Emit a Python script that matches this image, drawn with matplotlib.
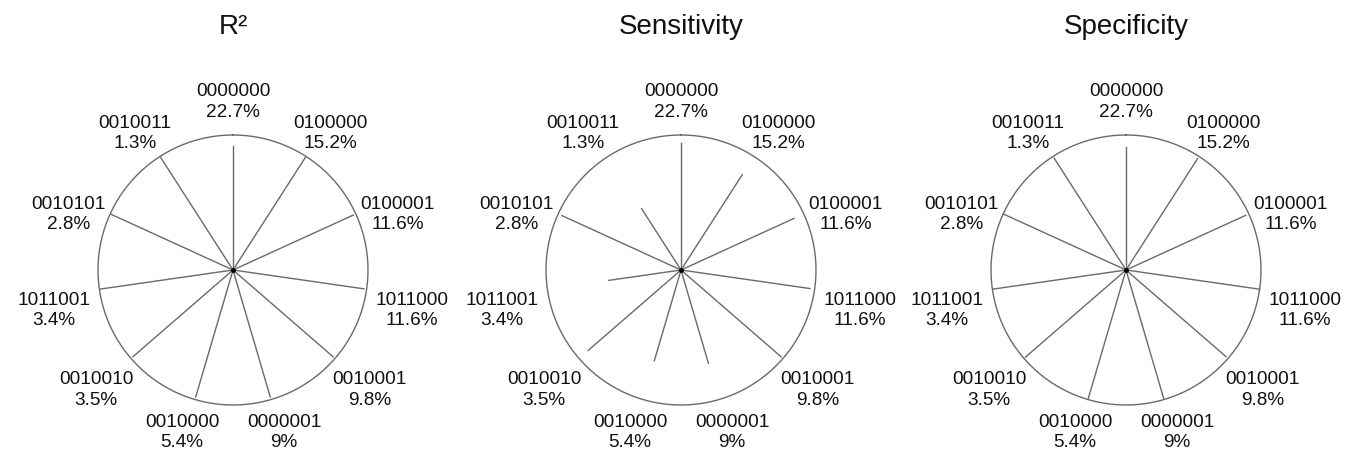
import matplotlib.pyplot as plt
import numpy as np

plt.rcParams['font.family'] = ['Liberation Sans', 'DejaVu Sans']

# Patterns, clockwise from the top
patterns = ['0000000', '0100000', '0100001', '1011000', '0010001', '0000001',
            '0010000', '0010010', '1011001', '0010101', '0010011']
shares = ['22.7%', '15.2%', '11.6%', '11.6%', '9.8%', '9%',
          '5.4%', '3.5%', '3.4%', '2.8%', '1.3%']

titles = ['R²', 'Sensitivity', 'Specificity']

r2_vals = [0.92, 0.99, 0.98, 0.98, 0.98, 0.98, 0.98, 0.98, 0.99, 0.99, 1.0]
sens_vals = [0.94, 0.84, 0.92, 0.965, 0.98, 0.72, 0.70, 0.91, 0.54, 0.97, 0.54]
spec_vals = [0.91, 0.98, 0.975, 1.0, 0.98, 0.99, 1.0, 0.985, 0.99, 1.0, 0.985]

W, H = 1352, 454
R = 135.0          # circle radius in pixels
centres = [233, 681, 1126]
cy = 270
line_col = '#6a6a6a'

fig = plt.figure(figsize=(W / 100, H / 100), dpi=100)

n = len(patterns)
theta = np.arange(n) * 2 * np.pi / n

for i, (title, vals) in enumerate(zip(titles, [r2_vals, sens_vals, spec_vals])):
    left = i * W / 3.0
    ax = fig.add_axes([left / W, 0, (W / 3.0) / W, 1])
    cx = centres[i] - left
    ax.set_xlim(-cx / R, (W / 3.0 - cx) / R)
    ax.set_ylim(-(H - cy) / R, cy / R)
    ax.set_aspect('equal')
    ax.axis('off')

    # outer circle
    t = np.linspace(0, 2 * np.pi, 400)
    ax.plot(np.sin(t), np.cos(t), color=line_col, lw=1.0)

    # spokes
    v = np.array(vals)
    for th, r in zip(theta, v):
        ax.plot([0, r * np.sin(th)], [0, r * np.cos(th)], color=line_col, lw=1.0)
    ax.plot(0, 0, 'o', color='black', ms=2.5)

    # labels
    for th, p, s in zip(theta, patterns, shares):
        lx = 1.34 * np.sin(th)
        ly = 1.245 * np.cos(th) - 0.128 * np.sin(th) ** 2
        ax.text(lx, ly, p + '\n' + s, ha='center', va='center', fontsize=13.7,
                linespacing=1.25, color='#111111')

    ax.text(0, (cy - 27) / R, title, ha='center', va='center', fontsize=20,
            color='#111111')

fig.savefig('out.png', dpi=100)
